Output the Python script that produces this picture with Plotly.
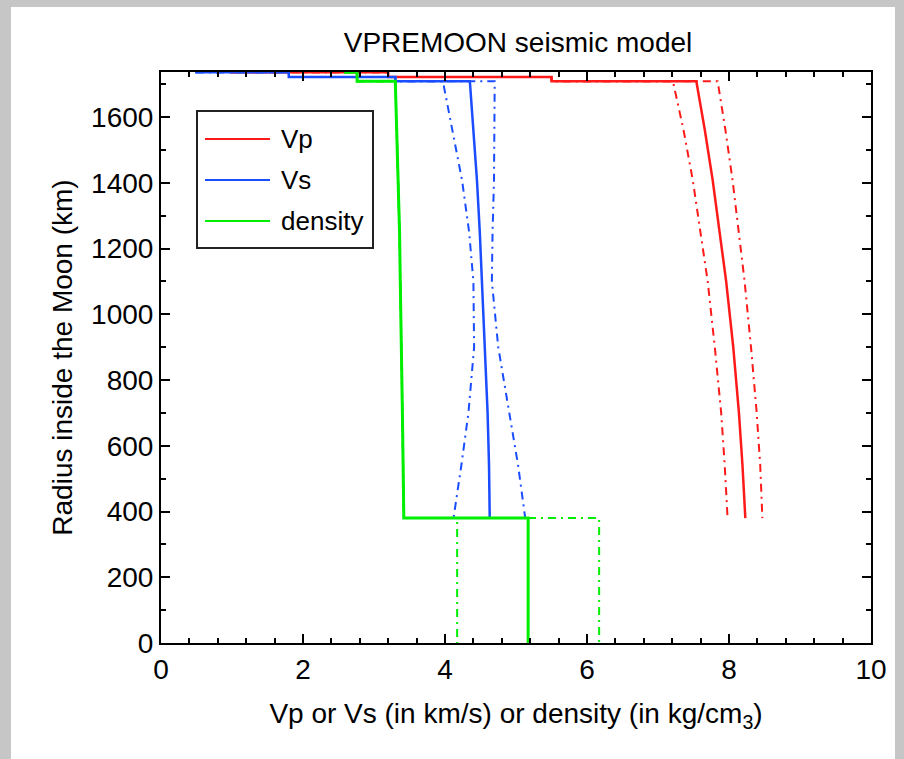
import plotly.graph_objects as go

# ---------------- data ----------------
crust_r_top = [1737.1, 1736.1, 1722.1]
crust_r_bot = [1736.1, 1722.1, 1709.1]
crust_vp = [1.0, 3.2, 5.5]
crust_vs = [0.5, 1.8, 3.3]
crust_rho = [2.6, 2.762, 2.762]

mantle_r = [1709.1, 1560, 1408, 1250, 1100, 900, 700, 540, 380]
mantle_vp = [7.54, 7.66, 7.77, 7.87, 7.96, 8.06, 8.14, 8.19, 8.23]
mantle_vp_low = [7.21, 7.36, 7.49, 7.60, 7.70, 7.80, 7.89, 7.94, 7.98]
mantle_vp_high = [7.84, 7.95, 8.05, 8.14, 8.22, 8.31, 8.39, 8.44, 8.47]
mantle_vs = [4.35, 4.40, 4.45, 4.49, 4.52, 4.57, 4.60, 4.62, 4.63]
mantle_vs_low = [3.97, 4.10, 4.24, 4.34, 4.40, 4.41, 4.33, 4.23, 4.12]
mantle_vs_high = [4.70, 4.70, 4.69, 4.67, 4.66, 4.75, 4.90, 5.03, 5.13]
mantle_rho = [3.30, 3.32, 3.34, 3.36, 3.37, 3.39, 3.40, 3.41, 3.42]

core_r = [380, 0]
core_rho = 5.171
core_rho_low = 4.171
core_rho_high = 6.171

legend_names = ["Vp", "Vs", "density"]
RED, BLUE, GREEN = "#ff1a1a", "#1a4dff", "#00ee00"


def profile(crust_vals, mantle_vals, core_val=None):
    xs, ys = [], []
    for v, rt, rb in zip(crust_vals, crust_r_top, crust_r_bot):
        xs += [v, v]
        ys += [rt, rb]
    xs += list(mantle_vals)
    ys += list(mantle_r)
    if core_val is not None:
        xs += [core_val, core_val]
        ys += list(core_r)
    return xs, ys


fig = go.Figure()
DD = "8px,5px,2px,5px"

for mv in [mantle_vp_low, mantle_vp_high]:
    x, y = profile(crust_vp, mv)
    fig.add_trace(go.Scatter(x=x, y=y, mode="lines", line=dict(color=RED, width=2, dash=DD), showlegend=False))
x, y = profile(crust_vp, mantle_vp)
fig.add_trace(go.Scatter(x=x, y=y, mode="lines", line=dict(color=RED, width=2.5), showlegend=False))

for mv in [mantle_vs_low, mantle_vs_high]:
    x, y = profile(crust_vs, mv)
    fig.add_trace(go.Scatter(x=x, y=y, mode="lines", line=dict(color=BLUE, width=2, dash=DD), showlegend=False))
x, y = profile(crust_vs, mantle_vs)
fig.add_trace(go.Scatter(x=x, y=y, mode="lines", line=dict(color=BLUE, width=2.5), showlegend=False))

for cvl in [core_rho_low, core_rho_high]:
    x, y = profile(crust_rho, mantle_rho, cvl)
    fig.add_trace(go.Scatter(x=x, y=y, mode="lines", line=dict(color=GREEN, width=2, dash=DD), showlegend=False))
x, y = profile(crust_rho, mantle_rho, core_rho)
fig.add_trace(go.Scatter(x=x, y=y, mode="lines", line=dict(color=GREEN, width=3), showlegend=False))

# plot area in pixels
L, R, T, B = 161, 871, 72, 643
W, H = 904, 759


def px(xpix):
    return (xpix - L) / (R - L)


def py(ypix):
    return (B - ypix) / (B - T)


shapes = []
grey = "#c6c6c6"
# viewer border (grey strips)
shapes.append(dict(type="rect", xref="paper", yref="paper", x0=px(0), x1=px(11), y0=py(W + 50), y1=py(0),
                   fillcolor=grey, line=dict(width=0), layer="below"))
shapes.append(dict(type="rect", xref="paper", yref="paper", x0=px(0), x1=px(W), y0=py(7), y1=py(0),
                   fillcolor=grey, line=dict(width=0), layer="below"))
shapes.append(dict(type="rect", xref="paper", yref="paper", x0=px(895), x1=px(W), y0=py(W + 50), y1=py(0),
                   fillcolor=grey, line=dict(width=0), layer="below"))

# manual legend
shapes.append(dict(type="rect", xref="paper", yref="paper", x0=px(197), x1=px(373), y0=py(248), y1=py(111),
                   fillcolor="white", line=dict(color="#222222", width=2)))
annotations = []
for name, col, yy in zip(legend_names, [RED, BLUE, GREEN], [139, 180, 221]):
    shapes.append(dict(type="line", xref="paper", yref="paper", x0=px(205), x1=px(270), y0=py(yy), y1=py(yy),
                       line=dict(color=col, width=2)))
    annotations.append(dict(xref="paper", yref="paper", x=px(279), y=py(yy), text=name, showarrow=False,
                            xanchor="left", yanchor="middle", font=dict(size=26, color="black")))

fig.update_layout(
    width=W, height=H,
    margin=dict(l=L, r=W - R, t=T, b=H - B),
    paper_bgcolor="white", plot_bgcolor="white",
    font=dict(family="Liberation Sans, Arial, sans-serif", color="black"),
    title=dict(text="VPREMOON seismic model", x=(px(518)), xref="paper", xanchor="center",
               y=1 - 42 / H, yanchor="middle", font=dict(size=28)),
    shapes=shapes, annotations=annotations,
    showlegend=False,
)
fig.update_xaxes(range=[0, 10], dtick=2, tick0=0, ticks="inside", ticklen=9, tickwidth=2, tickcolor="black",
                 showline=True, linecolor="black", linewidth=2, mirror="ticks", showgrid=False, zeroline=False,
                 tickfont=dict(size=28), minor=dict(dtick=0.4, ticks="inside", ticklen=5, tickwidth=1.5,
                                                     tickcolor="black", showgrid=False),
                 title=dict(text="Vp or Vs (in km/s) or density (in kg/cm<sub>3</sub>)", font=dict(size=28), standoff=20))
fig.update_yaxes(range=[0, 1737.1], dtick=200, tick0=0, ticks="inside", ticklen=9, tickwidth=2, tickcolor="black",
                 showline=True, linecolor="black", linewidth=2, mirror="ticks", showgrid=False, zeroline=False,
                 tickfont=dict(size=28), minor=dict(dtick=100, ticks="inside", ticklen=5, tickwidth=1.5,
                                                     tickcolor="black", showgrid=False),
                 title=dict(text="Radius inside the Moon (km)", font=dict(size=28), standoff=10))

fig.write_html("out.html")
